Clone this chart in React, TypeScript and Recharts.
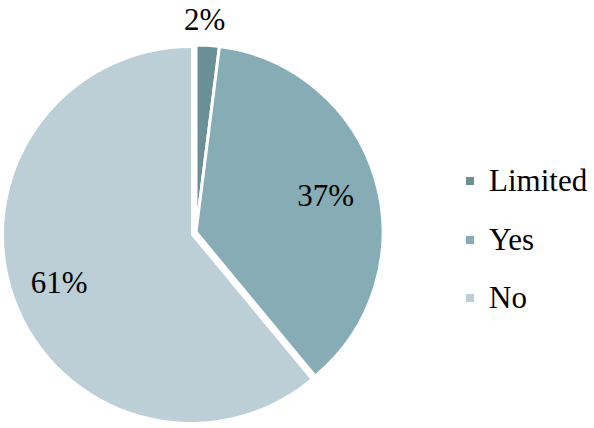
import React from "react";
import { PieChart, Pie, Cell, Legend } from "recharts";

const categories = ["Limited", "Yes", "No"];
const values = [2, 37, 61];
const colors = ["#6b8f97", "#86adb6", "#bccfd6"];

const data = categories.map((name, i) => ({ name, value: values[i] }));

const FONT = '"Liberation Serif", "Times New Roman", serif';
const RAD = Math.PI / 180;

const forceFont = (el: any) => {
  if (el && el.style) {
    el.style.setProperty("font-family", FONT, "important");
  }
};

const renderLabel = (props: any) => {
  const { cx, cy, midAngle, outerRadius, percent, index } = props;
  const r = percent < 0.05 ? outerRadius + 29 : outerRadius * 0.75;
  const x = cx + r * Math.cos(-midAngle * RAD);
  const y = cy + r * Math.sin(-midAngle * RAD);
  return (
    <text
      key={`lbl-${index}`}
      ref={forceFont}
      x={x}
      y={y}
      textAnchor="middle"
      dominantBaseline="central"
      fill="#000"
      fontFamily="Liberation Serif"
      fontSize={31}
      style={{ fontFamily: FONT, fontSize: 31 }}
    >
      {`${values[index]}%`}
    </text>
  );
};

const LegendContent = () => (
  <div ref={forceFont} style={{ fontFamily: FONT, fontSize: 31, color: "#000" }}>
    {categories.map((c, i) => (
      <div
        key={c}
        style={{ display: "flex", alignItems: "center", height: 58.5 }}
      >
        <span
          style={{
            display: "inline-block",
            width: 8,
            height: 8,
            background: colors[i],
            marginRight: 15,
          }}
        />
        <span ref={forceFont} style={{ fontFamily: FONT }}>{c}</span>
      </div>
    ))}
  </div>
);

export default function App() {
  return (
    <div ref={forceFont} style={{ position: "absolute", left: 0, top: 0, width: 594, height: 428, background: "#fff", fontFamily: FONT }}>
      <PieChart width={594} height={428} margin={{ top: 0, right: 0, bottom: 0, left: 0 }} style={{ fontFamily: FONT }}>
        <Pie
          data={data}
          dataKey="value"
          nameKey="name"
          cx={191}
          cy={235}
          outerRadius={187}
          startAngle={90}
          endAngle={-270}
          isAnimationActive={false}
          label={renderLabel}
          labelLine={false}
          stroke="none"
        >
          {data.map((d, i) => (
            <Cell key={d.name} fill={i === 2 ? colors[i] : "transparent"} />
          ))}
        </Pie>
        <Pie
          data={data}
          dataKey="value"
          nameKey="name"
          cx={196}
          cy={232}
          outerRadius={187}
          startAngle={90}
          endAngle={-270}
          isAnimationActive={false}
          label={false}
          labelLine={false}
        >
          {data.map((d, i) => (
            <Cell
              key={d.name}
              fill={i === 2 ? "transparent" : colors[i]}
              stroke={i === 2 ? "none" : "#fff"}
              strokeWidth={3}
            />
          ))}
        </Pie>
        <Legend
          content={<LegendContent />}
          layout="vertical"
          wrapperStyle={{ position: "absolute", left: 466, top: 152, width: 128 }}
        />
      </PieChart>
    </div>
  );
}
